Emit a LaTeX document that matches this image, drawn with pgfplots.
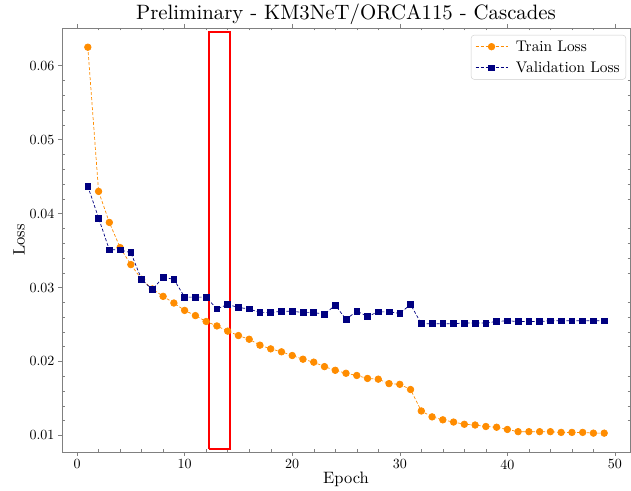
\documentclass[border=0pt]{standalone}
\usepackage{fontspec}
\setmainfont{lmroman10-regular.otf}[BoldFont=lmroman10-bold.otf,
  ItalicFont=lmroman10-italic.otf]
\usepackage{pgfplots}
\pgfplotsset{compat=1.18}
\definecolor{trainc}{RGB}{255,140,0}
\definecolor{valc}{RGB}{0,0,128}
\begin{document}
\begin{tikzpicture}
\begin{axis}[
  scale only axis, width=568pt, height=424pt,
  xmin=-1.4, xmax=51.4, ymin=0.00775, ymax=0.0651,
  xtick={0,10,20,30,40,50}, minor x tick num=4,
  ytick={0.01,0.02,0.03,0.04,0.05,0.06}, minor y tick num=4,
  yticklabels={0.01,0.02,0.03,0.04,0.05,0.06},
  scaled y ticks=false,
  tick align=outside, tick pos=both,
  major tick length=4pt, minor tick length=-2.5pt,
  axis line style={black!50}, every tick/.style={black!50},
  tick label style={font=\fontsize{14}{17}\selectfont},
  /pgf/number format/assume math mode=true,
  title={Preliminary - KM3NeT/ORCA115 - Cascades},
  title style={font=\fontsize{20.8}{24}\selectfont, yshift=-6pt},
  xlabel={Epoch}, ylabel={Loss},
  label style={font=\fontsize{16.5}{19}\selectfont},
  xlabel style={yshift=4pt}, ylabel style={yshift=-2pt},
  legend cell align=left,
  legend image code/.code={%
    \draw[mark repeat=2, mark phase=2, #1]
      plot coordinates {(0pt,0pt) (16pt,0pt) (32pt,0pt)};},
  legend style={at={(1,1)}, anchor=north east, xshift=-4pt, yshift=-7pt,
    draw=black!20, rounded corners=3pt, font=\fontsize{15.4}{18}\selectfont,
    inner xsep=4pt, inner ysep=3.5pt, row sep=5pt,
    nodes={inner sep=2pt},
    /tikz/every odd column/.append style={column sep=6pt}},
]
\addplot[trainc, densely dashed, line width=0.7pt, mark=*, mark size=3.3pt,
  mark options={solid, fill=trainc}] coordinates {
  (1,0.0625) (2,0.0430) (3,0.0388) (4,0.0354) (5,0.0331) (6,0.0311)
  (7,0.0298) (8,0.0288) (9,0.0279) (10,0.0269) (11,0.0262) (12,0.0254)
  (13,0.0248) (14,0.0241) (15,0.0235) (16,0.0230) (17,0.0222) (18,0.0217)
  (19,0.0213) (20,0.0208) (21,0.0203) (22,0.0199) (23,0.0193) (24,0.0188)
  (25,0.0184) (26,0.0181) (27,0.0177) (28,0.0176) (29,0.0170) (30,0.0169)
  (31,0.0162) (32,0.0133) (33,0.0125) (34,0.0121) (35,0.0118) (36,0.0115)
  (37,0.0114) (38,0.0112) (39,0.0111) (40,0.0108) (41,0.0105) (42,0.0105)
  (43,0.0105) (44,0.0105) (45,0.0104) (46,0.0104) (47,0.0104) (48,0.0103)
  (49,0.0103)
};
\addlegendentry{Train Loss}
\addplot[valc, densely dashed, line width=0.7pt, mark=square*, mark size=2.9pt,
  mark options={solid, fill=valc}] coordinates {
  (1,0.0437) (2,0.0394) (3,0.0351) (4,0.0351) (5,0.0347) (6,0.0311)
  (7,0.0297) (8,0.0314) (9,0.0311) (10,0.0287) (11,0.0287) (12,0.0287)
  (13,0.0271) (14,0.0277) (15,0.0273) (16,0.0271) (17,0.0266) (18,0.0266)
  (19,0.0268) (20,0.0268) (21,0.0266) (22,0.0266) (23,0.0264) (24,0.0276)
  (25,0.0257) (26,0.0268) (27,0.0261) (28,0.0267) (29,0.0267) (30,0.0265)
  (31,0.0277) (32,0.0251) (33,0.0251) (34,0.0251) (35,0.0251) (36,0.0252)
  (37,0.0252) (38,0.0252) (39,0.0254) (40,0.0255) (41,0.0254) (42,0.0254)
  (43,0.0254) (44,0.0255) (45,0.0255) (46,0.0255) (47,0.0255) (48,0.0255)
  (49,0.0255)
};
\addlegendentry{Validation Loss}
% highlighted epoch window
\addplot[red, line width=2pt, forget plot] coordinates {
  (12.25,0.0082) (14.25,0.0082) (14.25,0.0646) (12.25,0.0646) (12.25,0.0082)
};
\end{axis}
\pgfresetboundingbox
\path ([shift={(-62pt,-39pt)}]current axis.south west)
  rectangle ([shift={(1pt,28pt)}]current axis.north east);
\end{tikzpicture}
\end{document}
